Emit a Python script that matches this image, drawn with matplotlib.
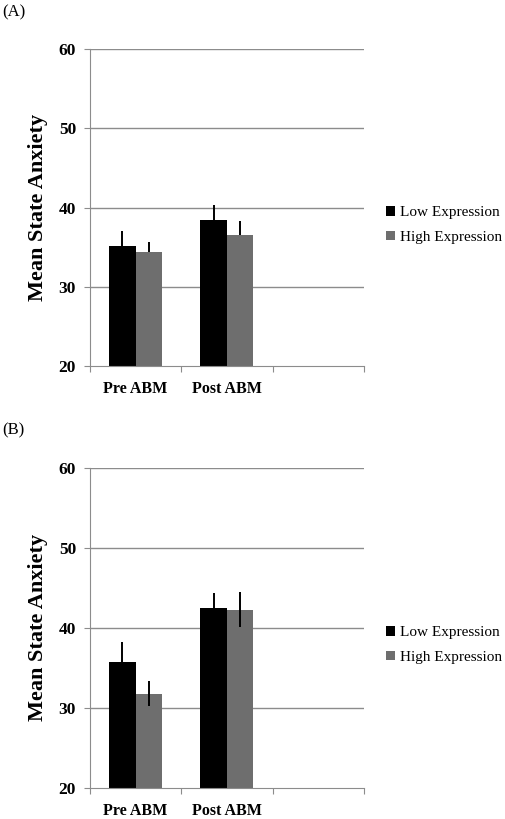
import matplotlib.pyplot as plt
import numpy as np

groups = ['Pre ABM', 'Post ABM']
series = ['Low Expression', 'High Expression']
colors = ['#000000', '#6e6e6e']

# panel A: means and (upper) errors
a_low = [35.2, 38.4]
a_high = [34.4, 36.6]
a_low_err = [1.8, 1.9]
a_high_err = [1.3, 1.7]

# panel B: means and symmetric errors
b_low = [35.8, 42.5]
b_high = [31.8, 42.3]
b_low_err = [2.4, 1.9]
b_high_err = [1.6, 2.2]

yticks = [20, 30, 40, 50, 60]

plt.rcParams['font.family'] = ['Liberation Serif', 'DejaVu Serif']


def panel(ax, means, errs, symmetric, leg_y):
    x = np.arange(len(groups))
    w = 0.29
    for i, (m, e) in enumerate(zip(means, errs)):
        pos = x + (i - 0.5) * w
        lower = e if symmetric else [0] * len(e)
        ax.bar(pos, np.array(m) - 20, w, bottom=20, color=colors[i],
               label=series[i], zorder=2)
        ax.errorbar(pos, m, yerr=[lower, e], fmt='none', ecolor='black',
                    elinewidth=1.4, capsize=0, zorder=3)
    ax.set_ylim(20, 60)
    ax.set_xlim(-0.5, 2.5)
    ax.set_yticks(yticks)
    ax.set_yticklabels([str(t) for t in yticks], fontweight='bold', fontsize=12.5)
    for t in yticks[1:]:
        ax.axhline(t, color='#8c8c8c', lw=1.0, zorder=1)
    ax.set_xticks([-0.5, 0.5, 1.5, 2.5])
    ax.set_xticklabels([])
    ax.set_xticks(x, minor=True)
    ax.set_xticklabels(groups, minor=True, fontweight='bold', fontsize=11.5)
    ax.tick_params(axis='x', which='minor', length=0, pad=11)
    ax.tick_params(axis='x', which='major', length=4, color='#8c8c8c')
    ax.tick_params(axis='y', length=4, color='#8c8c8c', pad=6)
    for s in ['top', 'right']:
        ax.spines[s].set_visible(False)
    for s in ['left', 'bottom']:
        ax.spines[s].set_color('#8c8c8c')
    ax.set_ylabel('Mean State Anxiety', fontweight='bold', fontsize=16, labelpad=8)
    ax.legend(loc='center left', bbox_to_anchor=(1.08, leg_y), frameon=False,
              borderpad=0, borderaxespad=0, handlelength=0.6, handleheight=0.6,
              handletextpad=0.3, labelspacing=0.75, fontsize=11)


fig = plt.figure(figsize=(5.05, 8.19), dpi=100)
ax1 = fig.add_axes([0.178, 0.553, 0.5426, 0.387])
ax2 = fig.add_axes([0.178, 0.0378, 0.5426, 0.391])

panel(ax1, [a_low, a_high], [a_low_err, a_high_err], False, 0.445)
panel(ax2, [b_low, b_high], [b_low_err, b_high_err], True, 0.447)

fig.text(0.004, 0.985, '(A)', fontsize=12, va='center')
fig.text(0.004, 0.475, '(B)', fontsize=12, va='center')

fig.savefig('out.png', dpi=100)
